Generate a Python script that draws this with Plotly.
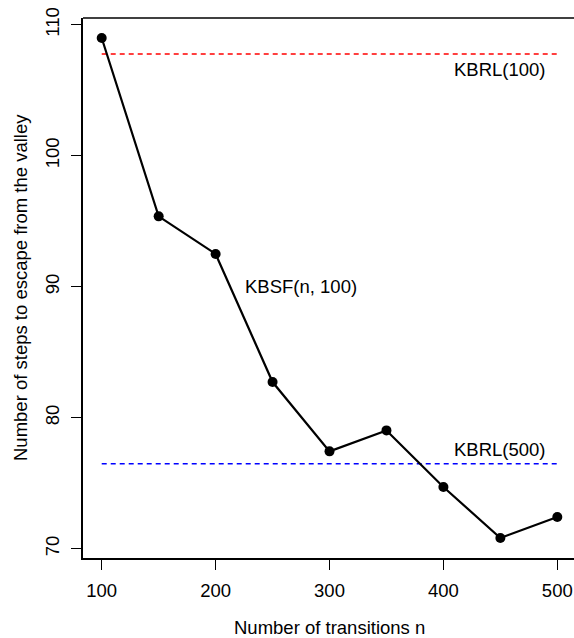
import plotly.graph_objects as go

# Data
n_transitions = [100, 150, 200, 250, 300, 350, 400, 450, 500]
kbsf_steps = [108.98, 95.37, 92.50, 82.72, 77.43, 79.03, 74.71, 70.82, 72.42]
kbrl100_value = 107.76
kbrl500_value = 76.49
baseline_x = [100, 500]
x_ticks = [100, 200, 300, 400, 500]
y_ticks = [70, 80, 90, 100, 110]

FONT = "Liberation Sans, Arial, Helvetica, sans-serif"
FS = 18.5

fig = go.Figure()

fig.add_trace(go.Scatter(
    x=baseline_x, y=[kbrl100_value] * 2, mode="lines",
    line=dict(color="#ff0000", width=1.5, dash="5px,4px"), showlegend=False, hoverinfo="skip"))
fig.add_trace(go.Scatter(
    x=baseline_x, y=[kbrl500_value] * 2, mode="lines",
    line=dict(color="#0000ff", width=1.5, dash="5px,4px"), showlegend=False, hoverinfo="skip"))
fig.add_trace(go.Scatter(
    x=n_transitions, y=kbsf_steps, mode="lines+markers",
    line=dict(color="black", width=2.2),
    marker=dict(color="black", size=10), showlegend=False))

annots = [
    dict(x=275, y=90, text="KBSF(n, 100)"),
    dict(x=450, y=106.56, text="KBRL(100)"),
    dict(x=450, y=77.56, text="KBRL(500)"),
]
for a in annots:
    fig.add_annotation(x=a["x"], y=a["y"], xref="x", yref="y", text=a["text"],
                       showarrow=False, xanchor="center", yanchor="middle",
                       font=dict(family=FONT, size=FS, color="black"))

fig.add_annotation(x=300, y=-0.1296, xref="x", yref="paper",
                   text="Number of transitions n", showarrow=False,
                   xanchor="center", yanchor="middle",
                   font=dict(family=FONT, size=FS, color="black"))
fig.add_annotation(x=-0.1283, y=0.5, xref="paper", yref="paper",
                   text="Number of steps to escape from the valley", showarrow=False,
                   textangle=-90, xanchor="center", yanchor="middle",
                   font=dict(family=FONT, size=FS, color="black"))

# top border of the box
fig.add_shape(type="line", xref="paper", yref="paper", x0=0, x1=1, y0=1, y1=1,
              line=dict(color="black", width=1.5))

fig.update_layout(
    width=574, height=638,
    margin=dict(l=83, r=0, t=18, b=80),
    paper_bgcolor="white", plot_bgcolor="white",
    font=dict(family=FONT, size=FS, color="black"),
    xaxis=dict(range=[83.57, 514.65], tickvals=x_ticks, ticktext=[str(v) for v in x_ticks],
               showgrid=False, zeroline=False, showline=True, linecolor="black", linewidth=1.5,
               ticks="outside", ticklen=10, tickcolor="black", tickwidth=1,
               ticklabelstandoff=5, ticklabeloverflow="allow",
               tickfont=dict(family=FONT, size=FS, color="black")),
    yaxis=dict(range=[69.29, 110.51], tickvals=y_ticks, ticktext=[str(v) for v in y_ticks],
               showgrid=False, zeroline=False, showline=True, linecolor="black", linewidth=1.5,
               tickangle=-90, ticks="outside", ticklen=10, tickcolor="black", tickwidth=1,
               ticklabelstandoff=5, ticklabeloverflow="allow",
               tickfont=dict(family=FONT, size=FS, color="black")),
)

fig.write_html(
    "out.html",
    config={"displayModeBar": False},
    post_script="document.body.style.margin='0';document.body.style.overflow='hidden';"
                "document.documentElement.style.overflow='hidden';",
)
